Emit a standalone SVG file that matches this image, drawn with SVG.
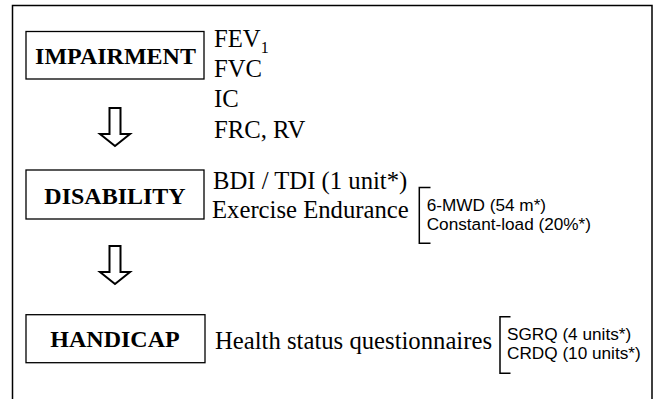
<svg xmlns="http://www.w3.org/2000/svg" width="660" height="399" viewBox="0 0 660 399">
<style>
.box{fill:#fff;stroke:#000;stroke-width:1.3}
.lbl{font-family:"Liberation Serif","Times New Roman",serif;font-weight:bold;font-size:24px;text-anchor:middle;fill:#000}
.t{font-family:"Liberation Serif","Times New Roman",serif;font-size:24.7px;fill:#000}
.s{font-family:"Liberation Sans",Arial,sans-serif;font-size:17.2px;fill:#000}
.br{fill:none;stroke:#000;stroke-width:1.5}
.arr{fill:#fff;stroke:#000;stroke-width:2}
</style>
<rect x="0" y="0" width="660" height="399" fill="#fff"/>
<path d="M12.5,410 V5.5 H652 V410" fill="none" stroke="#000" stroke-width="1.5"/>
<g id="impairment">
<rect class="box" x="26" y="31.5" width="178" height="47.5"/>
<text class="lbl" x="115.5" y="64">IMPAIRMENT</text>
</g>
<g id="impairment-measures">
<text class="t" x="214" y="47">FEV<tspan font-size="16px" dy="6">1</tspan></text>
<text class="t" x="214" y="77">FVC</text>
<text class="t" x="214" y="107">IC</text>
<text class="t" x="214" y="137.5">FRC, RV</text>
</g>
<g id="disability">
<rect class="box" x="26" y="170" width="178" height="49"/>
<text class="lbl" x="115" y="203.5">DISABILITY</text>
</g>
<g id="disability-measures">
<text class="t" x="213" y="189">BDI / TDI (1 unit*)</text>
<text class="t" x="212" y="218">Exercise Endurance</text>
<path class="br" d="M430.5,187.5 H419.3 V243.3 H430.5"/>
<text class="s" x="426.7" y="211.3">6-MWD (54 m*)</text>
<text class="s" x="426.7" y="230.3">Constant-load (20%*)</text>
</g>
<g id="handicap">
<rect class="box" x="26" y="314.7" width="179" height="48"/>
<text class="lbl" x="115" y="346.7">HANDICAP</text>
</g>
<g id="handicap-measures">
<text class="t" x="215" y="349">Health status questionnaires</text>
<path class="br" d="M510.5,316.7 H500 V373.3 H510.5"/>
<text class="s" x="507" y="339.5">SGRQ (4 units*)</text>
<text class="s" x="507" y="358.5">CRDQ (10 units*)</text>
</g>
<g id="connectors">
<path class="arr" d="M109.5,108 H120.5 V134 H130 L115,146 L100,134 H109.5 Z"/>
<path class="arr" d="M109.5,246 H120.5 V272 H130 L115,284 L100,272 H109.5 Z"/>
</g>
</svg>
